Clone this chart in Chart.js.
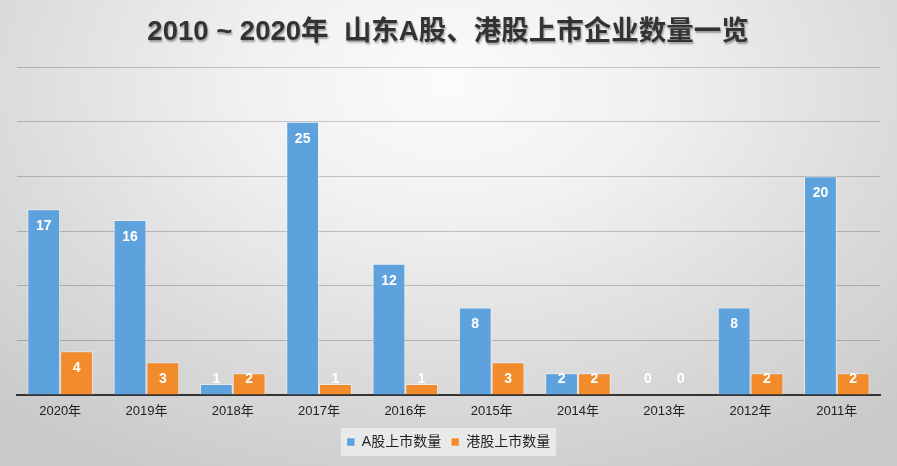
<!DOCTYPE html>
<html>
<head>
<meta charset="utf-8">
<script src="https://cdn.jsdelivr.net/npm/chart.js@4/dist/chart.umd.min.js"></script>
<style>
    html, body { margin: 0; padding: 0; }
    body {
        width: 897px;
        height: 466px;
        background: radial-gradient(ellipse 75% 95% at 50% 18%, #fbfbfb 0%, #f1f1f1 30%, #dcdcdc 65%, #c9c9c9 100%);
        overflow: hidden;
    }
    #wrap { width: 897px; height: 466px; position: relative; }
</style>
</head>
<body>
<div id="wrap"><canvas id="chart" width="897" height="466"></canvas></div>
<script>
// ---------- DATA ----------
const titleText = "2010 ~ 2020年  山东A股、港股上市企业数量一览";
const years = ["2020年", "2019年", "2018年", "2017年", "2016年", "2015年", "2014年", "2013年", "2012年", "2011年"];
const aShares = [17, 16, 1, 25, 12, 8, 2, 0, 8, 20];
const hkShares = [4, 3, 2, 1, 1, 3, 2, 0, 2, 2];
const seriesNames = ["A股上市数量", "港股上市数量"];

const FONT = "'Liberation Sans', 'Noto Sans CJK SC', sans-serif";

// ---------- TITLE (with shadow) ----------
const titlePlugin = {
    id: "shadowTitle",
    afterDraw(chart) {
        const ctx = chart.ctx;
        ctx.save();
        ctx.font = "bold 27.5px " + FONT;
        ctx.textAlign = "center";
        ctx.textBaseline = "middle";
        ctx.shadowColor = "rgba(0,0,0,0.35)";
        ctx.shadowOffsetX = 1;
        ctx.shadowOffsetY = 2;
        ctx.shadowBlur = 2;
        ctx.fillStyle = "#333333";
        ctx.fillText(titleText, 448, 32);
        ctx.restore();
    }
};

// ---------- LEGEND BACKGROUND ----------
const legendBox = {
    id: "legendBox",
    beforeDraw(chart) {
        const boxes = chart.legend && chart.legend.legendHitBoxes;
        if (!boxes || !boxes.length) return;
        const first = boxes[0];
        const last = boxes[boxes.length - 1];
        const ctx = chart.ctx;
        ctx.save();
        ctx.fillStyle = "rgba(240,240,240,0.75)";
        ctx.fillRect(first.left - 6, first.top - 7, last.left + last.width - first.left + 12, first.height + 14);
        ctx.restore();
    }
};

// ---------- VALUE LABELS ----------
const valueLabels = {
    id: "valueLabels",
    afterDatasetsDraw(chart) {
        const ctx = chart.ctx;
        const base = chart.scales.y.getPixelForValue(0);
        ctx.save();
        ctx.font = "bold 14px " + FONT;
        ctx.fillStyle = "#ffffff";
        ctx.textAlign = "center";
        ctx.textBaseline = "middle";
        chart.data.datasets.forEach((ds, i) => {
            chart.getDatasetMeta(i).data.forEach((bar, j) => {
                const y = Math.min(bar.y + 17, base - 16);
                ctx.fillText(String(ds.data[j]), bar.x, y);
            });
        });
        ctx.restore();
    }
};

const ctx = document.getElementById("chart").getContext("2d");

new Chart(ctx, {
    type: "bar",
    data: {
        labels: years,
        datasets: [{
            label: seriesNames[0],
            data: aShares,
            backgroundColor: "#5da2dd",
            borderColor: "rgba(255,255,255,0.45)",
            borderWidth: 1,
            categoryPercentage: 0.76,
            barPercentage: 1.0
        }, {
            label: seriesNames[1],
            data: hkShares,
            backgroundColor: "#f28b2c",
            borderColor: "rgba(255,255,255,0.45)",
            borderWidth: 1,
            categoryPercentage: 0.76,
            barPercentage: 1.0
        }]
    },
    options: {
        responsive: false,
        animation: false,
        layout: {
            padding: { top: 67, left: 17, right: 17, bottom: 7 }
        },
        plugins: {
            title: { display: false },
            tooltip: { enabled: false },
            legend: {
                position: "bottom",
                labels: {
                    boxWidth: 8,
                    boxHeight: 8,
                    padding: 10,
                    color: "#222222",
                    font: { family: FONT, size: 14 }
                }
            }
        },
        scales: {
            x: {
                grid: { display: false, drawTicks: false },
                border: { display: true, color: "#333333", width: 2 },
                ticks: {
                    color: "#222222",
                    padding: 9,
                    font: { family: FONT, size: 13 }
                },
                afterFit(scale) { scale.height = 30; }
            },
            y: {
                min: 0,
                max: 30,
                ticks: { display: false, stepSize: 5 },
                grid: { color: "rgba(0,0,0,0.2)", lineWidth: 1, drawTicks: false },
                border: { display: false },
                afterFit(scale) { scale.width = 0; }
            }
        }
    },
    plugins: [legendBox, valueLabels, titlePlugin]
});
</script>
</body>
</html>
